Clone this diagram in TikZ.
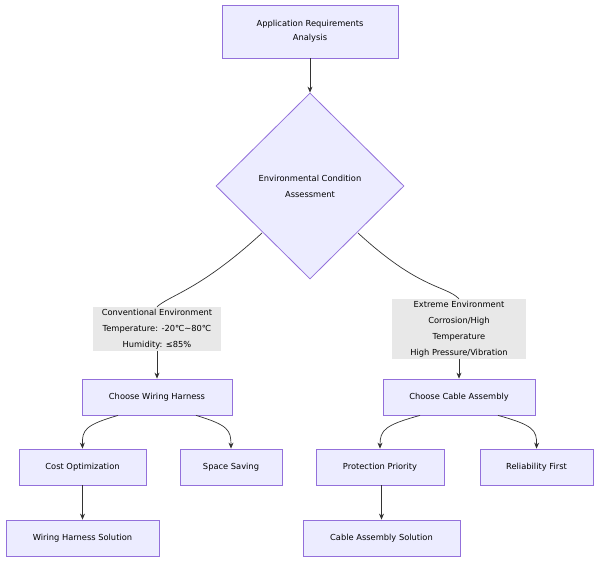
\documentclass[tikz,border=0pt]{standalone}
\usepackage{fontspec}
\setmainfont{DejaVu Sans}
\usetikzlibrary{shapes.geometric,arrows.meta}
\definecolor{boxfill}{HTML}{ECECFF}
\definecolor{boxline}{HTML}{9370DB}
\definecolor{labfill}{HTML}{E8E8E8}
\definecolor{edge}{HTML}{333333}
\tikzset{
  proc/.style={draw=boxline, fill=boxfill, line width=0.8pt, minimum height=36pt, inner sep=0pt, font=\fontsize{8.3}{14}\selectfont, align=center},
  tag/.style={fill=labfill, inner sep=2pt, font=\fontsize{8.3}{16}\selectfont, align=center},
  flow/.style={draw=edge, line width=0.7pt},
  arr/.style={flow, -{Stealth[length=6pt,width=5pt]}}
}
\begin{document}
\begin{tikzpicture}[x=1pt,y=-1pt]
  \useasboundingbox (0,0) rectangle (600,562);

  \node[proc, minimum width=176pt, minimum height=53pt] (req) at (310,31.5) {Application Requirements\\Analysis};
  \node[diamond, draw=boxline, fill=boxfill, line width=0.8pt, minimum width=188pt, minimum height=186pt, inner sep=0pt,
        font=\fontsize{8.3}{16}\selectfont, align=center] (env) at (310,186) {Environmental Condition\\Assessment};

  \node[tag, minimum width=128pt] (conv) at (157,329) {Conventional Environment\\Temperature: -20℃\textasciitilde80℃\\Humidity: ≤85\%};
  \node[tag, minimum width=134pt] (extr) at (459,329) {Extreme Environment\\Corrosion/High\\Temperature\\High Pressure/Vibration};

  \node[proc, minimum width=150pt] (wire) at (157,397) {Choose Wiring Harness};
  \node[proc, minimum width=152pt] (cable) at (459,397) {Choose Cable Assembly};

  \node[proc, minimum width=127pt] (cost) at (82.5,467) {Cost Optimization};
  \node[proc, minimum width=102pt] (space) at (231,467) {Space Saving};
  \node[proc, minimum width=128pt] (prot) at (380,467) {Protection Priority};
  \node[proc, minimum width=113pt] (rel) at (536.5,467) {Reliability First};

  \node[proc, minimum width=153pt] (wsol) at (82.5,538) {Wiring Harness Solution};
  \node[proc, minimum width=157pt] (csol) at (381.5,538) {Cable Assembly Solution};

  % edges
  \draw[arr] (req) -- (env);
  \coordinate (envL) at (262,233);
  \coordinate (envR) at (358,233);
  \draw[flow] (envL) .. controls (200,290) and (170,295) .. (conv.north);
  \draw[flow] (envR) .. controls (420,290) and (445,285) .. (extr.north);
  \draw[arr] (conv.south) -- (wire.north);
  \draw[arr] (extr.south) -- (cable.north);

  \draw[arr] (wire.south -| 118,0) .. controls (85,425) and (82,430) .. (cost.north);
  \draw[arr] (wire.south -| 196,0) .. controls (228,425) and (231,430) .. (space.north);
  \draw[arr] (cable.south -| 420,0) .. controls (385,425) and (380,430) .. (prot.north);
  \draw[arr] (cable.south -| 498,0) .. controls (533,425) and (537,430) .. (rel.north);

  \draw[arr] (cost) -- (wsol);
  \draw[arr] (prot.south -| csol.north) -- (csol.north);
\end{tikzpicture}
\end{document}
